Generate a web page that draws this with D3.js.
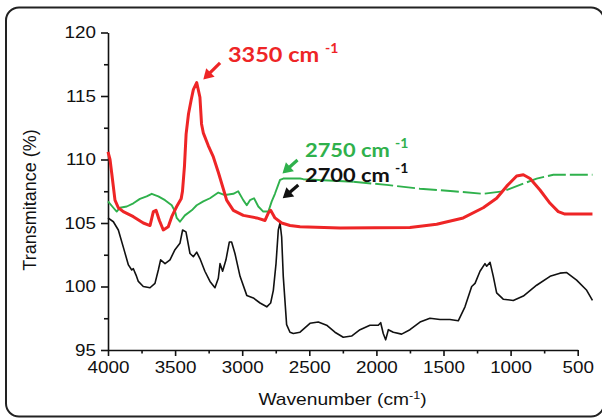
<!DOCTYPE html>
<html>
<head>
<meta charset="utf-8">
<script src="https://cdn.jsdelivr.net/npm/d3@7"></script>
<style>
  html, body { margin: 0; padding: 0; background: #fff; }
  svg { display: block; }
</style>
</head>
<body>
<svg id="chart" width="602" height="419"></svg>
<script>
// ---------------- data ----------------
const redWn = [4000, 3985, 3972, 3948, 3923, 3886, 3811, 3737, 3687, 3662, 3642, 3617, 3588, 3551, 3525, 3488, 3455, 3445, 3430, 3418, 3400, 3380, 3364, 3339, 3315, 3303, 3290, 3253, 3215, 3178, 3141, 3116, 3066, 2992, 2892, 2830, 2805, 2788, 2756, 2706, 2644, 2569, 2271, 1750, 1551, 1353, 1204, 1104, 1029, 955, 905, 855, 781, 706, 645, 595, 390];
const redT  = [110.6, 110.0, 108.9, 106.8, 106.2, 105.9, 105.5, 105.0, 104.8, 105.9, 106.0, 105.2, 104.45, 104.7, 105.5, 106.3, 106.9, 107.5, 109.5, 112.0, 113.6, 114.7, 115.5, 116.05, 114.9, 112.8, 112.1, 111.1, 110.2, 109.0, 107.7, 106.8, 106.0, 105.6, 105.4, 105.2, 105.8, 106.0, 105.4, 105.0, 104.8, 104.7, 104.6, 104.65, 104.9, 105.4, 106.2, 106.95, 107.9, 108.7, 108.8, 108.5, 107.6, 106.55, 105.9, 105.7, 105.7];

const greenWn = [4000, 3960, 3935, 3911, 3860, 3811, 3762, 3712, 3674, 3650, 3625, 3575, 3525, 3500, 3488, 3464, 3427, 3376, 3339, 3290, 3240, 3178, 3129, 3066, 3030, 2992, 2966, 2942, 2912, 2880, 2843, 2805, 2780, 2756, 2718, 2694, 2569, 2545, 2172, 1924, 1675, 1427, 1204, 1055, 905, 806, 682, 390];
const greenT  = [106.7, 106.2, 105.9, 106.2, 106.3, 106.55, 106.9, 107.1, 107.3, 107.2, 107.1, 106.8, 106.4, 105.9, 105.4, 105.1, 105.6, 106.0, 106.4, 106.7, 106.95, 107.4, 107.2, 107.3, 107.5, 106.8, 106.4, 106.8, 106.95, 106.3, 105.9, 105.9, 106.7, 107.3, 108.4, 108.5, 108.5, 108.45, 108.25, 108.0, 107.7, 107.5, 107.3, 107.5, 108.1, 108.5, 108.8, 108.8];
const greenDashFrom = 2000;

const blackWn = [4000, 3960, 3923, 3886, 3848, 3823, 3811, 3791, 3774, 3737, 3687, 3650, 3625, 3608, 3575, 3538, 3501, 3464, 3444, 3419, 3389, 3364, 3339, 3315, 3278, 3240, 3203, 3178, 3165, 3146, 3121, 3096, 3079, 3054, 3016, 2966, 2917, 2867, 2817, 2788, 2768, 2748, 2731, 2718, 2706, 2694, 2669, 2644, 2619, 2569, 2495, 2433, 2371, 2309, 2247, 2185, 2122, 2048, 1986, 1968, 1949, 1931, 1911, 1874, 1812, 1750, 1675, 1601, 1526, 1452, 1390, 1340, 1290, 1265, 1228, 1191, 1178, 1153, 1129, 1104, 1055, 980, 905, 806, 706, 632, 582, 508, 433, 390];
const blackT  = [105.4, 105.1, 104.45, 103.1, 101.7, 101.3, 101.4, 100.9, 100.4, 100.0, 99.9, 100.25, 101.3, 102.1, 101.8, 102.1, 102.9, 103.4, 104.45, 104.3, 102.6, 102.35, 102.7, 102.2, 101.2, 100.4, 99.9, 100.65, 101.8, 101.2, 102.1, 103.5, 103.5, 102.6, 100.8, 99.3, 99.1, 98.7, 98.4, 98.7, 99.7, 101.8, 104.45, 105.0, 103.9, 100.8, 97.0, 96.4, 96.3, 96.4, 97.1, 97.2, 96.95, 96.4, 96.0, 96.1, 96.6, 96.95, 96.95, 97.15, 96.3, 95.8, 96.6, 96.4, 96.25, 96.6, 97.2, 97.5, 97.4, 97.4, 97.3, 98.4, 100.0, 100.25, 101.2, 101.8, 101.6, 101.9, 100.8, 99.5, 99.0, 98.9, 99.25, 100.1, 100.8, 101.05, 101.1, 100.5, 99.7, 98.9];

const xTicks = [4000, 3500, 3000, 2500, 2000, 1500, 1000, 500];
const xMinorTicks = [3750, 3250, 2750, 2250, 1750, 1250, 750];
const yTicks = [95, 100, 105, 110, 115, 120];
const yMinorTicks = [97.5, 102.5, 107.5, 112.5, 117.5];

// annotations: label, text anchor point (wn, T), arrow tail, arrow tip
const annLabels = ["3350 cm", "2750 cm", "2700 cm"];
const annTextWn = [3106, 2532, 2532];
const annTextT  = [117.68, 110.22, 108.25];
const annTailWn = [3165, 2588, 2582];
const annTailT  = [117.6, 109.96, 107.99];
const annTipWn  = [3290, 2700, 2698];
const annTipT   = [116.3, 108.9, 106.94];

const xTitle = "Wavenumber (cm";
const yTitle = "Transmitance (%)";

// ---------------- styles ----------------
const RED = "#ee2526", GREEN = "#2fb14c", BLACK = "#111111";
const annColors = [RED, GREEN, BLACK];
const annSizes = [21, 19.5, 19.5];
const SX = 1.2; // horizontal stretch of the original picture text

const svg = d3.select("#chart");
svg.append("rect").attr("width", 602).attr("height", 419).attr("fill", "#fff");
svg.append("rect")
  .attr("x", 6).attr("y", 7.5).attr("width", 598).attr("height", 409)
  .attr("rx", 13).attr("ry", 13)
  .attr("fill", "none").attr("stroke", "#222").attr("stroke-width", 2);

const x = d3.scaleLinear().domain([4000, 500]).range([108, 577.7]);
const y = d3.scaleLinear().domain([95, 120]).range([350, 32.5]);

// ---------------- axes ----------------
const fontAx = "'Liberation Sans', Arial, sans-serif";

const gx = svg.append("g").attr("transform", `translate(0,${y(95)})`);
gx.call(d3.axisBottom(x).tickValues(xTicks).tickSize(6).tickSizeOuter(0).tickFormat(d3.format("d")));
const gxm = svg.append("g").attr("transform", `translate(0,${y(95)})`);
gxm.call(d3.axisBottom(x).tickValues(xMinorTicks).tickSize(3.5).tickSizeOuter(0).tickFormat(""));
gxm.select(".domain").remove();
gx.selectAll("text")
  .attr("y", 23.3).attr("dy", 0)
  .attr("transform", `scale(${SX},1)`)
  .style("font-family", fontAx).style("font-size", "15.7px").attr("fill", "#111");

const gy = svg.append("g").attr("transform", `translate(${x(4000)},0)`);
gy.call(d3.axisLeft(y).tickValues(yTicks).tickSize(7).tickSizeOuter(0).tickFormat(d3.format("d")));
const gym = svg.append("g").attr("transform", `translate(${x(4000)},0)`);
gym.call(d3.axisLeft(y).tickValues(yMinorTicks).tickSize(4).tickSizeOuter(0).tickFormat(""));
gym.select(".domain").remove();
gy.selectAll("text")
  .attr("x", -12 / SX).attr("dy", "0.34em")
  .attr("transform", `scale(${SX},1)`)
  .style("font-family", fontAx).style("font-size", "15.7px").attr("fill", "#111");

[gx, gxm, gy, gym].forEach(g => {
  g.selectAll("path.domain").attr("stroke", "#111").attr("stroke-width", 1.6);
  g.selectAll(".tick line").attr("stroke", "#111").attr("stroke-width", 1.6);
});

// axis titles
const xt = svg.append("text")
  .attr("transform", `translate(342.5,405) scale(${SX},1)`)
  .attr("text-anchor", "middle")
  .style("font-family", fontAx).style("font-size", "16px").attr("fill", "#111");
xt.append("tspan").text(xTitle);
xt.append("tspan").attr("dy", -6).style("font-size", "10.5px").text("-1");
xt.append("tspan").attr("dy", 6).text(")");

svg.append("text")
  .attr("transform", `translate(35.5,200) rotate(-90)`)
  .attr("text-anchor", "middle")
  .style("font-family", fontAx).style("font-size", "18px").attr("fill", "#111")
  .text(yTitle);

// ---------------- lines ----------------
const line = d3.line().x(d => x(d[0])).y(d => y(d[1]));
const zip = (a, b) => a.map((v, i) => [v, b[i]]);

svg.append("path").datum(zip(blackWn, blackT))
  .attr("d", line).attr("fill", "none").attr("stroke", BLACK)
  .attr("stroke-width", 1.6).attr("stroke-linejoin", "round");

const greenPts = zip(greenWn, greenT);
svg.append("path").datum(greenPts.filter(d => d[0] >= greenDashFrom))
  .attr("d", line).attr("fill", "none").attr("stroke", GREEN)
  .attr("stroke-width", 1.9).attr("stroke-linejoin", "round");
svg.append("path").datum(greenPts.filter((d, i) => d[0] <= greenDashFrom || (greenPts[i + 1] && greenPts[i + 1][0] < greenDashFrom)))
  .attr("d", line).attr("fill", "none").attr("stroke", GREEN)
  .attr("stroke-width", 1.9).attr("stroke-dasharray", "18,4");

svg.append("path").datum(zip(redWn, redT))
  .attr("d", line).attr("fill", "none").attr("stroke", RED)
  .attr("stroke-width", 3).attr("stroke-linejoin", "round");

// ---------------- annotations ----------------
annLabels.forEach((lab, i) => {
  const c = annColors[i];
  const x1 = x(annTailWn[i]), y1 = y(annTailT[i]);
  const x2 = x(annTipWn[i]), y2 = y(annTipT[i]);
  const L = Math.hypot(x2 - x1, y2 - y1), ux = (x2 - x1) / L, uy = (y2 - y1) / L;
  const hl = 10, hw = 6;
  const bx = x2 - ux * hl, by = y2 - uy * hl;
  svg.append("line").attr("x1", x1).attr("y1", y1).attr("x2", bx + ux).attr("y2", by + uy)
    .attr("stroke", c).attr("stroke-width", 3.2);
  svg.append("path")
    .attr("d", `M${x2},${y2}L${bx - uy * hw},${by + ux * hw}L${bx + uy * hw},${by - ux * hw}Z`)
    .attr("fill", c);

  const t = svg.append("text")
    .attr("transform", `translate(${x(annTextWn[i])},${y(annTextT[i])}) scale(1.12,1)`)
    .style("font-family", "Lato, 'Open Sans', sans-serif").style("font-weight", "bold")
    .style("font-size", annSizes[i] + "px").attr("fill", c);
  t.append("tspan").text(lab + " ");
  t.append("tspan").attr("dy", -9).style("font-size", "12.5px").text("-1");
});
</script>
</body>
</html>
